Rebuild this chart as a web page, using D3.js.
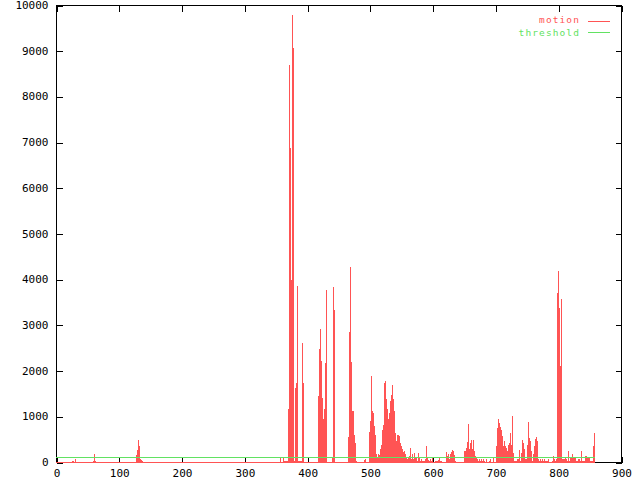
<!DOCTYPE html>
<html>
<head>
<meta charset="utf-8">
<script src="https://cdn.jsdelivr.net/npm/d3@7"></script>
<style>
  html, body { margin: 0; padding: 0; background: #ffffff; }
  svg { display: block; }
  text { font-family: "DejaVu Sans Mono", "Liberation Mono", monospace; font-size: 11px; }
</style>
</head>
<body>
<svg id="chart" width="640" height="480"></svg>
<script>
// ---- data ----
const motionX = [
  25,27,30,59,61,62,127,129,131,132,134,135,137,
  357,362,363,365,366,368,
  370,371,373,374,376,378,379,381,382,384,385,387,389,390,392,393,
  417,419,421,422,424,425,427,428,430,
  440,441,443,
  465,467,468,470,472,473,475,476,478,
  491,492,499,
  500,502,503,505,507,508,510,511,513,515,516,518,519,521,522,524,526,527,529,530,
  532,534,535,537,538,540,542,543,545,546,548,550,551,553,554,556,558,559,561,562,
  564,565,567,569,570,572,573,575,577,578,580,581,583,585,586,588,589,591,593,594,
  596,597,599,604,605,607,608,610,
  612,613,621,623,624,626,628,629,631,632,634,636,
  650,652,653,655,656,658,659,661,663,664,666,667,669,671,672,674,675,677,679,680,682,685,690,691,696,
  701,702,704,706,707,709,710,712,714,
  715,717,718,720,722,723,725,726,728,730,731,733,734,736,738,739,741,742,744,745,
  747,749,750,752,753,755,757,758,760,761,763,765,766,768,769,771,773,774,776,777,
  779,781,782,784,790,792,793,795,796,
  798,800,801,803,804,806,808,809,811,812,814,816,817,819,820,822,824,825,827,828,
  830,832,833,835,836,838,839,841,843,844,846,847,849,851,852,854,855,857
];
const motionY = [
  30,30,75,30,175,30,160,260,490,345,55,40,20,
  110,110,20,20,20,20,
  1150,8690,6880,3990,9780,9060,20,1630,1730,3860,20,20,20,20,2600,1730,
  1450,2480,2920,2200,1390,930,1150,2170,3770,
  90,3840,3330,
  555,2840,4260,2180,1110,1110,600,425,30,
  50,70,650,
  890,1890,1110,1075,780,600,165,90,165,150,290,380,710,820,1730,1770,1370,1150,930,1075,
  1330,1475,1690,1370,1110,640,455,600,600,565,420,345,275,215,235,165,90,55,110,140,
  310,70,165,55,200,110,90,20,200,110,30,55,20,20,20,55,345,110,40,20,
  55,20,90,30,30,20,50,80,
  30,20,215,130,165,55,180,215,260,235,150,30,
  235,235,310,435,840,275,420,490,275,490,235,140,90,55,20,70,30,55,20,70,30,70,30,55,90,
  345,745,930,855,770,710,565,345,455,
  345,300,250,380,420,640,380,1000,200,20,30,30,55,70,260,30,200,490,420,275,
  70,55,380,870,530,455,235,30,165,345,505,545,455,55,20,55,30,55,30,55,
  20,20,20,55,30,140,55,20,55,
  3700,4170,3370,2095,3575,55,55,70,85,70,30,230,20,90,85,165,85,85,105,30,
  30,55,55,20,230,20,20,20,140,140,85,85,85,20,30,30,345,640
];
const thresholdValue = 110;
const dataStart = 0;
const dataEnd = 857;
const xTicks = [0,100,200,300,400,500,600,700,800,900];
const yTicks = [0,1000,2000,3000,4000,5000,6000,7000,8000,9000,10000];
const seriesNames = ["motion", "threshold"];

// ---- drawing ----
const RED = "#ff5454";
const GREEN = "#62e262";
const svg = d3.select("#chart");
svg.append("rect").attr("width", 640).attr("height", 480).attr("fill", "#ffffff");

const L = 56.5, R = 621.5, T = 5.5, B = 462.5;
const x = d3.scaleLinear().domain([0, 900]).range([L, R]);
const y = d3.scaleLinear().domain([0, 10000]).range([B, T]);

const tickLen = 6;

// border
svg.append("rect")
  .attr("x", L).attr("y", T).attr("width", R - L).attr("height", B - T)
  .attr("fill", "none").attr("stroke", "#000").attr("stroke-width", 1)
  .attr("shape-rendering", "crispEdges");

// axes via d3 (ticks inside, mirrored)
const bottomAxis = d3.axisBottom(x).tickValues(xTicks).tickSize(-tickLen).tickPadding(0).tickFormat(d3.format("d"));
const topAxis = d3.axisTop(x).tickValues(xTicks).tickSize(-tickLen).tickFormat("");
const leftAxis = d3.axisLeft(y).tickValues(yTicks).tickSize(-tickLen).tickFormat(d3.format("d"));
const rightAxis = d3.axisRight(y).tickValues(yTicks).tickSize(-tickLen).tickFormat("");

function styleAxis(g) {
  g.select(".domain").remove();
  g.selectAll(".tick line").attr("stroke", "#000").attr("shape-rendering", "crispEdges");
  g.selectAll("text").attr("fill", "#000").style("font-family", '"DejaVu Sans Mono", monospace').style("font-size", "11px");
}
const gb = svg.append("g").attr("transform", `translate(0,${B})`).call(bottomAxis).call(styleAxis);
gb.selectAll("text").attr("dy", null).attr("y", 11).attr("dominant-baseline", "middle");
svg.append("g").attr("transform", `translate(0,${T})`).call(topAxis).call(styleAxis);
const gl = svg.append("g").attr("transform", `translate(${L},0)`).call(leftAxis).call(styleAxis);
gl.selectAll("text").attr("x", -8).attr("dy", null).attr("dominant-baseline", "middle");
svg.append("g").attr("transform", `translate(${R},0)`).call(rightAxis).call(styleAxis);

// motion impulses
const motion = motionX.map((d, i) => ({ x: d, v: motionY[i] }));
svg.append("g").attr("shape-rendering", "crispEdges")
  .selectAll("rect").data(motion).join("rect")
  .attr("x", d => Math.floor(x(d.x)))
  .attr("width", 1)
  .attr("y", d => Math.floor(y(d.v)))
  .attr("height", d => 463 - Math.floor(y(d.v)))
  .attr("fill", RED);

// zero baseline of impulses
svg.append("line")
  .attr("x1", Math.floor(x(dataStart))).attr("x2", Math.floor(x(dataEnd)) + 1)
  .attr("y1", B).attr("y2", B)
  .attr("stroke", RED).attr("stroke-width", 1).attr("shape-rendering", "crispEdges");

// threshold line
svg.append("line")
  .attr("x1", Math.floor(x(dataStart))).attr("x2", Math.floor(x(dataEnd)) + 1)
  .attr("y1", Math.floor(y(thresholdValue)) + 0.5).attr("y2", Math.floor(y(thresholdValue)) + 0.5)
  .attr("stroke", GREEN).attr("stroke-width", 1).attr("shape-rendering", "crispEdges");

// legend
const legend = svg.append("g");
const colors = [RED, GREEN];
const legendY = [21.5, 32.5];
const legendTextY = [20.8, 33.2];
seriesNames.forEach((name, i) => {
  legend.append("text").attr("x", 580).attr("y", legendTextY[i])
    .attr("text-anchor", "end").attr("dominant-baseline", "middle")
    .style("font-size", "9.5px").style("letter-spacing", "1.1px")
    .attr("fill", colors[i]).text(name);
  legend.append("line").attr("x1", 588).attr("x2", 610).attr("y1", legendY[i]).attr("y2", legendY[i])
    .attr("stroke", colors[i]).attr("stroke-width", 1).attr("shape-rendering", "crispEdges");
});
</script>
</body>
</html>
